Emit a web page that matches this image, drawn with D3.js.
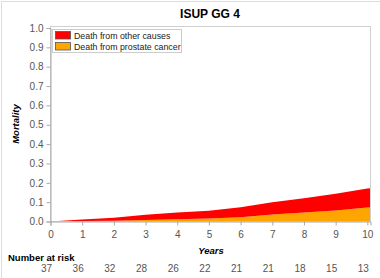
<!DOCTYPE html>
<html>
<head>
<meta charset="utf-8">
<script src="https://cdn.jsdelivr.net/npm/d3@7"></script>
<style>
  body { margin: 0; background: #fff; }
  svg { display: block; font-family: "Liberation Sans", Arial, sans-serif; }
</style>
</head>
<body>
<svg id="chart" width="380" height="278"></svg>
<script>
// cumulative incidence
var years = [0, 1, 2, 3, 4, 5, 6, 7, 8, 9, 10, 10.1];
var prostate = [0, 0.002, 0.004, 0.008, 0.011, 0.015, 0.022, 0.036, 0.047, 0.057, 0.072, 0.073];
var other = [0, 0.008, 0.016, 0.027, 0.035, 0.041, 0.052, 0.064, 0.073, 0.086, 0.098, 0.099];
var xTicks = [0, 1, 2, 3, 4, 5, 6, 7, 8, 9, 10];
var yTicks = [0, 0.1, 0.2, 0.3, 0.4, 0.5, 0.6, 0.7, 0.8, 0.9, 1.0];
var atRisk = [37, 36, 32, 28, 26, 22, 21, 21, 18, 15, 13];

var svg = d3.select("#chart");
var plotL = 50.5, plotR = 370.5, plotT = 26.5, plotB = 221.5;

var x = d3.scaleLinear().domain([0, 10.1]).range([plotL, plotR]);
var y = d3.scaleLinear().domain([0, 1]).range([plotB, 28]);

// outer border (only visible on some sides)
svg.append("line").attr("x1", 1.5).attr("x2", 1.5).attr("y1", 1).attr("y2", 278).attr("stroke", "#ddd");
svg.append("line").attr("x1", 1).attr("x2", 380).attr("y1", 1.5).attr("y2", 1.5).attr("stroke", "#ddd");

svg.append("text").attr("x", 210).attr("y", 17.5)
  .attr("text-anchor", "middle").attr("font-size", 12).attr("font-weight", "bold")
  .text("ISUP GG 4");

var rows = years.map(function(t, i) { return { t: t, prostate: prostate[i], other: other[i] }; });
var stack = d3.stack().keys(["prostate", "other"])(rows);
var colors = { prostate: "#ffa500", other: "#ff0000" };

var area = d3.area()
  .x(function(d) { return x(d.data.t); })
  .y0(function(d) { return y(d[0]); })
  .y1(function(d) { return y(d[1]); });

svg.selectAll(".layer").data(stack).enter().append("path")
  .attr("class", "layer")
  .attr("fill", function(d) { return colors[d.key]; })
  .attr("d", area);

// frame
svg.append("rect").attr("x", plotL).attr("y", plotT)
  .attr("width", plotR - plotL).attr("height", plotB - plotT)
  .attr("fill", "none").attr("stroke", "#d0d0d0");

var yAxis = svg.append("g").attr("transform", "translate(" + plotL + ",0)")
  .call(d3.axisLeft(y).tickValues(yTicks).tickFormat(d3.format(".1f")).tickSize(4).tickPadding(3));
var xAxis = svg.append("g").attr("transform", "translate(0," + plotB + ")")
  .call(d3.axisBottom(x).tickValues(xTicks).tickFormat(d3.format("d")).tickSize(4).tickPadding(5));

[yAxis, xAxis].forEach(function(g) {
  g.select(".domain").attr("stroke", "#aaa");
  g.selectAll(".tick line").attr("stroke", "#aaa");
  g.selectAll(".tick text").attr("fill", "#555").attr("font-size", 10)
    .attr("font-family", "Liberation Sans, Arial, sans-serif");
});

svg.append("text").attr("transform", "translate(19," + ((plotT + plotB) / 2) + ") rotate(-90)")
  .attr("text-anchor", "middle").attr("font-size", 9.5)
  .attr("font-weight", "bold").attr("font-style", "italic").text("Mortality");

svg.append("text").attr("x", 211).attr("y", 254)
  .attr("text-anchor", "middle").attr("font-size", 9.5)
  .attr("font-weight", "bold").attr("font-style", "italic").text("Years");

svg.append("text").attr("x", 8).attr("y", 261)
  .attr("font-size", 9.5).attr("font-weight", "bold").text("Number at risk");

svg.selectAll(".risk").data(atRisk).enter().append("text")
  .attr("class", "risk")
  .attr("x", function(d, i) { return x(xTicks[i]) - 4; })
  .attr("y", 272)
  .attr("text-anchor", "middle").attr("font-size", 10).attr("fill", "#555")
  .text(function(d) { return d; });

// legend
var legend = svg.append("g").attr("transform", "translate(52,29)");
legend.append("rect").attr("x", 0.5).attr("y", 0.5).attr("width", 129).attr("height", 23)
  .attr("fill", "#fff").attr("stroke", "#ccc");
var items = [
  { key: "other", label: "Death from other causes" },
  { key: "prostate", label: "Death from prostate cancer" }
];
items.forEach(function(it, i) {
  var g = legend.append("g").attr("transform", "translate(3," + (2 + i * 11) + ")");
  g.append("rect").attr("x", 0.5).attr("y", 0.5).attr("width", 15).attr("height", 7.5)
    .attr("fill", colors[it.key]).attr("stroke", "#555").attr("stroke-width", 0.8);
  g.append("text").attr("x", 19).attr("y", 8).attr("font-size", 8.8).attr("fill", "#222").text(it.label);
});
</script>
</body>
</html>
